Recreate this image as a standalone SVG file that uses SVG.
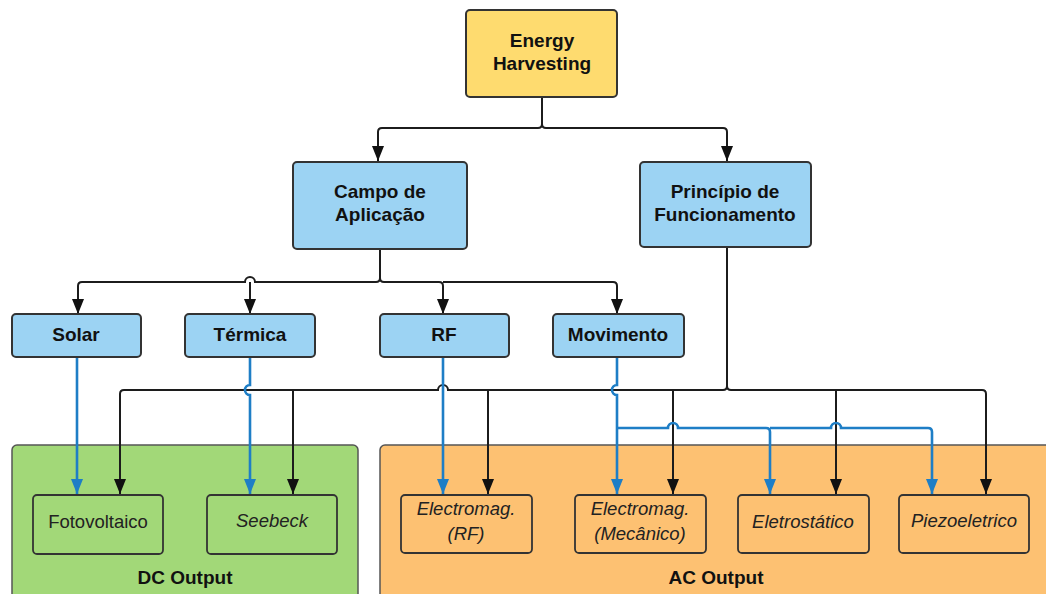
<svg xmlns="http://www.w3.org/2000/svg" width="1046" height="594" viewBox="0 0 1046 594">
<style>
.box{stroke:#333;stroke-width:2}
.y{fill:#fedb6f}
.b{fill:#9cd3f3}
.t{font-family:"Liberation Sans",Arial,sans-serif;font-size:19px;font-weight:bold;fill:#111;text-anchor:middle}
.n{font-family:"Liberation Sans",Arial,sans-serif;font-size:18.5px;fill:#222;text-anchor:middle}
.i{font-style:italic}
.k{fill:none;stroke:#1c1c1c;stroke-width:2}
.bl{fill:none;stroke:#1e7ec6;stroke-width:2.6}
</style>
<defs>
<marker id="ak" markerUnits="userSpaceOnUse" markerWidth="14" markerHeight="16" refX="7" refY="15" viewBox="0 0 14 16"><path d="M1,0 L13,0 L7,15 Z" fill="#111"/></marker>
<marker id="ab" markerUnits="userSpaceOnUse" markerWidth="14" markerHeight="16" refX="7" refY="15" viewBox="0 0 14 16"><path d="M1,0 L13,0 L7,15 Z" fill="#1e7ec6"/></marker>
</defs>
<rect width="1046" height="594" fill="#fff"/>
<g id="dc-output">
<rect x="12" y="445" width="346" height="160" rx="5" fill="#a2d878" stroke="#555" stroke-width="1.5"/>
<text class="t" x="185" y="584">DC Output</text>
</g>
<g id="ac-output">
<rect x="380" y="445" width="680" height="160" rx="5" fill="#fdc172" stroke="#555" stroke-width="1.5"/>
<text class="t" x="716" y="584">AC Output</text>
</g>
<g id="connectors">
<path class="k" d="M542,97 V124 Q542,128 538,128 H382 Q378,128 378,132 V161" marker-end="url(#ak)"/>
<path class="k" d="M542,124 Q542,128 546,128 H723 Q727,128 727,132 V161" marker-end="url(#ak)"/>
<path class="k" d="M380,249 V278 Q380,282 376,282 H255 a5,5 0 0 0 -10,0 H82 Q78,282 78,286 V314" marker-end="url(#ak)"/>
<path class="k" d="M250,282 V314" marker-end="url(#ak)"/>
<path class="k" d="M380,278 Q380,282 384,282 H439 Q443,282 443,286 V314" marker-end="url(#ak)"/>
<path class="k" d="M443,282 H613 Q617,282 617,286 V314" marker-end="url(#ak)"/>
<path class="k" d="M727,247 V386 Q727,390 723,390 H448 a5,5 0 0 0 -10,0 H124 Q120,390 120,394 V494" marker-end="url(#ak)"/>
<path class="k" d="M293,390 V494" marker-end="url(#ak)"/>
<path class="k" d="M488,390 V494" marker-end="url(#ak)"/>
<path class="k" d="M727,386 Q727,390 731,390 H982 Q986,390 986,394 V494" marker-end="url(#ak)"/>
<path class="k" d="M673,390 V494" marker-end="url(#ak)"/>
<path class="k" d="M836,390 V494" marker-end="url(#ak)"/>
<path class="bl" d="M77,357 V494" marker-end="url(#ab)"/>
<path class="bl" d="M250,357 V385 a5,5 0 0 0 0,10 V494" marker-end="url(#ab)"/>
<path class="bl" d="M443,357 V494" marker-end="url(#ab)"/>
<path class="bl" d="M617,357 V385 a5,5 0 0 0 0,10 V494" marker-end="url(#ab)"/>
<path class="bl" d="M617,428 H668 a5,5 0 0 1 10,0 H766 Q770,428 770,432 V494" marker-end="url(#ab)"/>
<path class="bl" d="M770,428 H831 a5,5 0 0 1 10,0 H928 Q932,428 932,432 V494" marker-end="url(#ab)"/>
</g>
<g id="energy-harvesting">
<rect class="box y" x="466" y="10" width="151" height="87" rx="4"/>
<text class="t" x="542" y="47">Energy</text>
<text class="t" x="542" y="70">Harvesting</text>
</g>
<g id="campo">
<rect class="box b" x="293" y="162" width="174" height="87" rx="4"/>
<text class="t" x="380" y="198">Campo de</text>
<text class="t" x="380" y="221">Aplicação</text>
</g>
<g id="principio">
<rect class="box b" x="640" y="162" width="171" height="85" rx="4"/>
<text class="t" x="725" y="198">Princípio de</text>
<text class="t" x="725" y="221">Funcionamento</text>
</g>
<g id="solar">
<rect class="box b" x="12" y="314" width="129" height="43" rx="4"/>
<text class="t" x="76" y="341">Solar</text>
</g>
<g id="termica">
<rect class="box b" x="185" y="314" width="130" height="43" rx="4"/>
<text class="t" x="250" y="341">Térmica</text>
</g>
<g id="rf">
<rect class="box b" x="380" y="314" width="129" height="43" rx="4"/>
<text class="t" x="444" y="341">RF</text>
</g>
<g id="movimento">
<rect class="box b" x="553" y="314" width="131" height="43" rx="4"/>
<text class="t" x="618" y="341">Movimento</text>
</g>
<g id="fotovoltaico">
<rect x="33" y="495" width="130" height="59" rx="4" fill="none" stroke="#333" stroke-width="1.8"/>
<text class="n" x="98" y="528">Fotovoltaico</text>
</g>
<g id="seebeck">
<rect x="207" y="495" width="130" height="59" rx="4" fill="none" stroke="#333" stroke-width="1.8"/>
<text class="n i" x="272" y="527">Seebeck</text>
</g>
<g id="em-rf">
<rect x="401" y="495" width="131" height="58" rx="4" fill="none" stroke="#333" stroke-width="1.8"/>
<text class="n i" x="466" y="515">Electromag.</text>
<text class="n i" x="466" y="540">(RF)</text>
</g>
<g id="em-mec">
<rect x="575" y="495" width="131" height="58" rx="4" fill="none" stroke="#333" stroke-width="1.8"/>
<text class="n i" x="640" y="515">Electromag.</text>
<text class="n i" x="640" y="540">(Mecânico)</text>
</g>
<g id="eletrostatico">
<rect x="738" y="495" width="131" height="58" rx="4" fill="none" stroke="#333" stroke-width="1.8"/>
<text class="n i" x="803" y="528">Eletrostático</text>
</g>
<g id="piezo">
<rect x="899" y="495" width="130" height="58" rx="4" fill="none" stroke="#333" stroke-width="1.8"/>
<text class="n i" x="964" y="527">Piezoeletrico</text>
</g>
</svg>
